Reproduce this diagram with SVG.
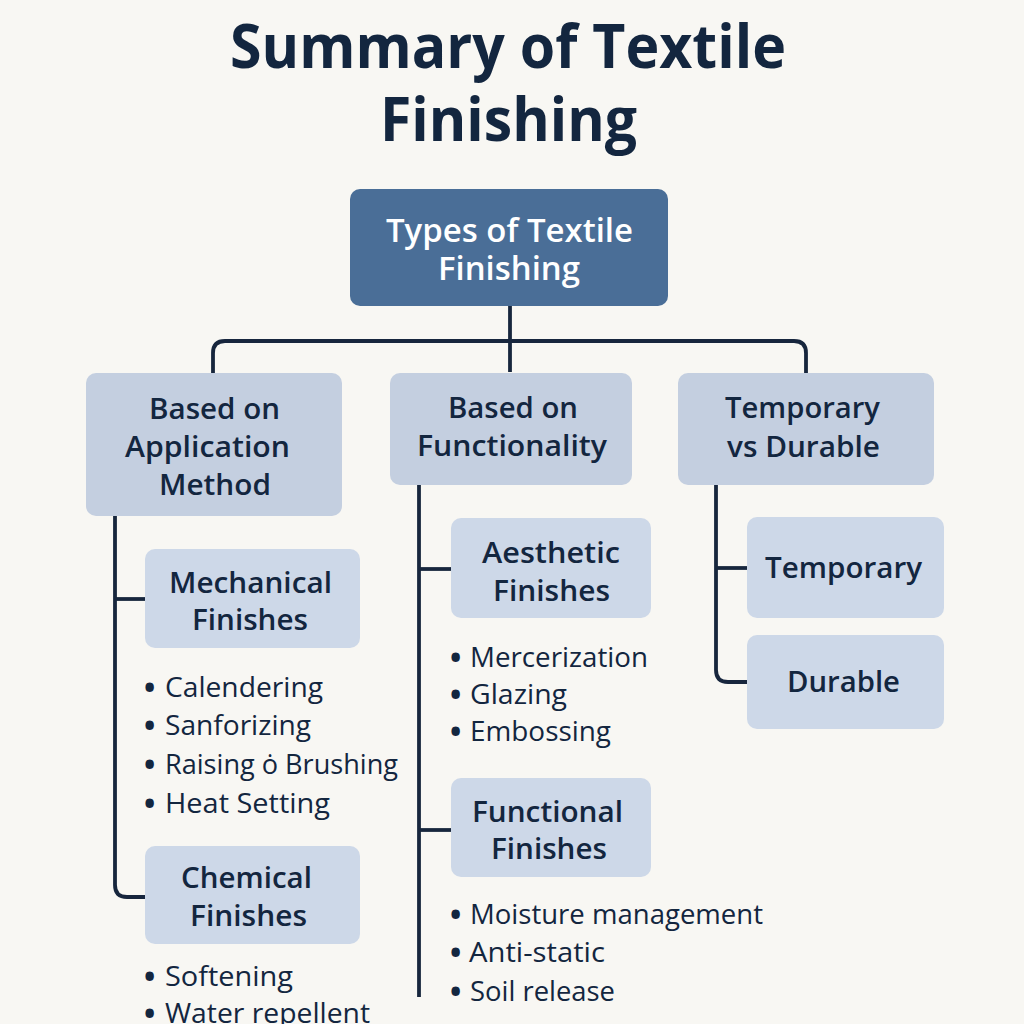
<svg xmlns="http://www.w3.org/2000/svg" width="1024" height="1024" viewBox="0 0 1024 1024">
<style>
.t{font-family:"Open Sans","Noto Sans","DejaVu Sans",sans-serif;fill:#13263f}
.title{font-size:60px;font-weight:700}
.rt{font-size:32px;font-weight:600;fill:#ffffff}
.bx{font-size:29px;font-weight:600}
.bl{font-size:27.5px;font-weight:500}
.dot{font-size:30px;font-weight:700}
.l2{fill:#c4cfe0}
.l3{fill:#cdd8e8}
.c{fill:none;stroke:#17263d;stroke-width:3.8;stroke-linecap:butt;stroke-linejoin:round}
</style>
<rect x="0" y="0" width="1024" height="1024" fill="#f8f7f3"/>
<g id="title">
<text class="t title" x="230" y="68" textLength="556" lengthAdjust="spacingAndGlyphs">Summary of Textile</text>
<text class="t title" x="380" y="141" textLength="257" lengthAdjust="spacingAndGlyphs">Finishing</text>
</g>
<g id="connectors">
<path class="c" d="M510,306 V372"/>
<path class="c" d="M213,373 V353 Q213,341 225,341 H794 Q806,341 806,353 V373"/>
<path class="c" d="M115,516 V885 Q115,897 127,897 H145"/>
<path class="c" d="M115,599 H145"/>
<path class="c" d="M419,485 V997"/>
<path class="c" d="M419,569 H451"/>
<path class="c" d="M419,830 H451"/>
<path class="c" d="M716,485 V670 Q716,682 728,682 H748"/>
<path class="c" d="M716,568 H748"/>
</g>
<g id="root">
<rect x="350" y="189" width="318" height="117" rx="10" fill="#4a6e97"/>
<text class="t rt" x="386" y="242" textLength="247" lengthAdjust="spacingAndGlyphs">Types of Textile</text>
<text class="t rt" x="438" y="280" textLength="142" lengthAdjust="spacingAndGlyphs">Finishing</text>
</g>
<g id="application">
<rect class="l2" x="86" y="373" width="256" height="143" rx="10"/>
<text class="t bx" x="149" y="419" textLength="131" lengthAdjust="spacingAndGlyphs">Based on</text>
<text class="t bx" x="125" y="457" textLength="165" lengthAdjust="spacingAndGlyphs">Application</text>
<text class="t bx" x="159" y="495" textLength="112" lengthAdjust="spacingAndGlyphs">Method</text>
</g>
<g id="functionality">
<rect class="l2" x="390" y="373" width="242" height="112" rx="10"/>
<text class="t bx" x="448" y="418" textLength="130" lengthAdjust="spacingAndGlyphs">Based on</text>
<text class="t bx" x="417" y="456" textLength="190" lengthAdjust="spacingAndGlyphs">Functionality</text>
</g>
<g id="tempdurable">
<rect class="l2" x="678" y="373" width="256" height="112" rx="10"/>
<text class="t bx" x="725" y="418" textLength="155" lengthAdjust="spacingAndGlyphs">Temporary</text>
<text class="t bx" x="727" y="457" textLength="153" lengthAdjust="spacingAndGlyphs">vs Durable</text>
</g>
<g id="mechanical">
<rect class="l3" x="145" y="549" width="215" height="99" rx="10"/>
<text class="t bx" x="169" y="593" textLength="163" lengthAdjust="spacingAndGlyphs">Mechanical</text>
<text class="t bx" x="192" y="630" textLength="116" lengthAdjust="spacingAndGlyphs">Finishes</text>
</g>
<g id="mechanical-list">
<text class="t dot" x="144" y="698">•</text><text class="t bl" x="165" y="697" textLength="158" lengthAdjust="spacingAndGlyphs">Calendering</text>
<text class="t dot" x="144" y="736">•</text><text class="t bl" x="165" y="735" textLength="146" lengthAdjust="spacingAndGlyphs">Sanforizing</text>
<text class="t dot" x="144" y="775">•</text><text class="t bl" x="165" y="774" textLength="233" lengthAdjust="spacingAndGlyphs">Raising ȯ Brushing</text>
<text class="t dot" x="144" y="814">•</text><text class="t bl" x="165" y="813" textLength="165" lengthAdjust="spacingAndGlyphs">Heat Setting</text>
</g>
<g id="chemical">
<rect class="l3" x="145" y="846" width="215" height="98" rx="10"/>
<text class="t bx" x="181" y="888" textLength="131" lengthAdjust="spacingAndGlyphs">Chemical</text>
<text class="t bx" x="190" y="926" textLength="117" lengthAdjust="spacingAndGlyphs">Finishes</text>
</g>
<g id="chemical-list">
<text class="t dot" x="144" y="987">•</text><text class="t bl" x="165" y="986" textLength="128" lengthAdjust="spacingAndGlyphs">Softening</text>
<text class="t dot" x="144" y="1024">•</text><text class="t bl" x="165" y="1023" textLength="205" lengthAdjust="spacingAndGlyphs">Water repellent</text>
</g>
<g id="aesthetic">
<rect class="l3" x="451" y="518" width="200" height="100" rx="10"/>
<text class="t bx" x="482" y="563" textLength="138" lengthAdjust="spacingAndGlyphs">Aesthetic</text>
<text class="t bx" x="493" y="601" textLength="117" lengthAdjust="spacingAndGlyphs">Finishes</text>
</g>
<g id="aesthetic-list">
<text class="t dot" x="450" y="668">•</text><text class="t bl" x="470" y="667" textLength="178" lengthAdjust="spacingAndGlyphs">Mercerization</text>
<text class="t dot" x="450" y="705">•</text><text class="t bl" x="470" y="704" textLength="97" lengthAdjust="spacingAndGlyphs">Glazing</text>
<text class="t dot" x="450" y="742">•</text><text class="t bl" x="470" y="741" textLength="141" lengthAdjust="spacingAndGlyphs">Embossing</text>
</g>
<g id="functional">
<rect class="l3" x="451" y="778" width="200" height="99" rx="10"/>
<text class="t bx" x="472" y="822" textLength="151" lengthAdjust="spacingAndGlyphs">Functional</text>
<text class="t bx" x="491" y="859" textLength="116" lengthAdjust="spacingAndGlyphs">Finishes</text>
</g>
<g id="functional-list">
<text class="t dot" x="450" y="925">•</text><text class="t bl" x="470" y="924" textLength="293" lengthAdjust="spacingAndGlyphs">Moisture management</text>
<text class="t dot" x="450" y="963">•</text><text class="t bl" x="469" y="962" textLength="136" lengthAdjust="spacingAndGlyphs">Anti-static</text>
<text class="t dot" x="450" y="1002">•</text><text class="t bl" x="470" y="1001" textLength="145" lengthAdjust="spacingAndGlyphs">Soil release</text>
</g>
<g id="temporary">
<rect class="l3" x="747" y="517" width="197" height="101" rx="10"/>
<text class="t bx" x="765" y="578" textLength="157" lengthAdjust="spacingAndGlyphs">Temporary</text>
</g>
<g id="durable">
<rect class="l3" x="747" y="635" width="197" height="94" rx="10"/>
<text class="t bx" x="787" y="692" textLength="113" lengthAdjust="spacingAndGlyphs">Durable</text>
</g>
</svg>
